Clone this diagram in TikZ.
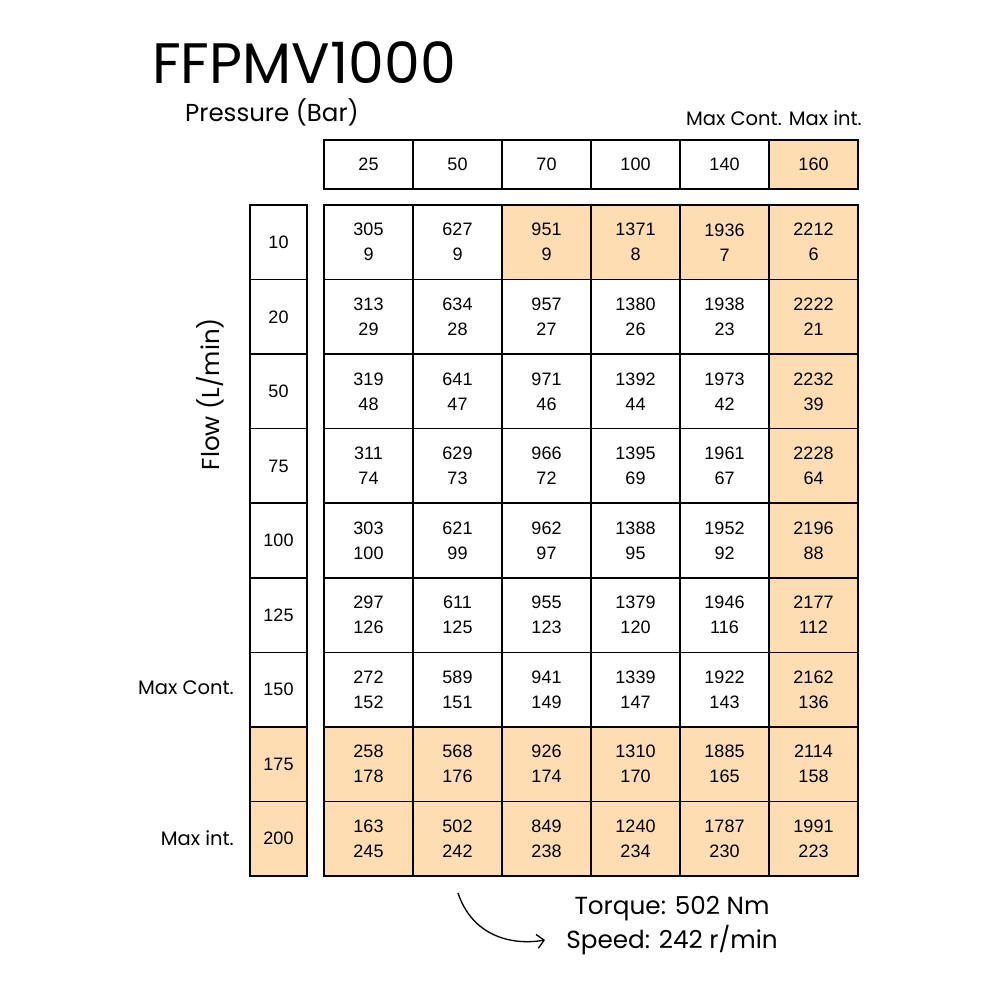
\documentclass[tikz,border=0pt]{standalone}
\usepackage{fontspec}
\setmainfont{Poppins}
\newfontfamily\numfont{Liberation Sans}
\usetikzlibrary{arrows.meta}
\definecolor{peach}{HTML}{FFDDB3}
\tikzset{
  cell/.style={draw=black, line width=1.6pt, minimum width=89pt, minimum height=74.56pt, inner sep=0pt, align=center, font=\numfont\fontsize{18}{25}\selectfont},
  headcell/.style={cell, minimum height=49pt},
  flowcell/.style={cell, minimum width=57pt},
  lbl/.style={inner sep=0pt, font=\fontsize{19.5}{22}\selectfont},
  axislbl/.style={inner sep=0pt, font=\fontsize{24.5}{28}\selectfont},
  big/.style={inner sep=0pt, font=\fontsize{24.7}{30}\selectfont},
}
\begin{document}
\begin{tikzpicture}[x=1pt,y=-1pt]
\fill[white] (0,0) rectangle (1000,1000);
\useasboundingbox (0,0) rectangle (1000,1000);
% title
\node[inner sep=0pt, anchor=base west, font=\fontsize{57}{64}\selectfont] (title) at (152,84) {FFPMV1000};
\node[axislbl, anchor=base west] (pressure) at (185,122) {Pressure (Bar)};
\node[lbl, anchor=base east] (maxhdr) at (862,126) {Max Cont. Max int.};
\node[axislbl, rotate=90] (flow) at (210,394) {Flow (L/min)};
% header
\foreach \p [count=\c] in {25,50,70,100,140,160} {
  \ifnum\c=6 \def\cf{peach}\else\def\cf{white}\fi
  \node[headcell, fill=\cf] (h\c) at ({324+89*(\c-0.5)},164.5) {\p};
}
% flow column
\foreach \f [count=\r] in {10,20,50,75,100,125,150,175,200} {
  \ifnum\r>7 \def\cf{peach}\else\def\cf{white}\fi
  \node[flowcell, fill=\cf] (f\r) at (278.5,{205+74.56*(\r-0.5)}) {\f};
}
% body
\foreach \row [count=\r] in {
 {305/9,627/9,951/9,1371/8,1936/7,2212/6},
 {313/29,634/28,957/27,1380/26,1938/23,2222/21},
 {319/48,641/47,971/46,1392/44,1973/42,2232/39},
 {311/74,629/73,966/72,1395/69,1961/67,2228/64},
 {303/100,621/99,962/97,1388/95,1952/92,2196/88},
 {297/126,611/125,955/123,1379/120,1946/116,2177/112},
 {272/152,589/151,941/149,1339/147,1922/143,2162/136},
 {258/178,568/176,926/174,1310/170,1885/165,2114/158},
 {163/245,502/242,849/238,1240/234,1787/230,1991/223}} {
  \foreach \t/\s [count=\c] in \row {
    \pgfmathtruncatemacro\hl{(\c==6)||(\r>=8)||((\r==1)&&(\c>=3))}
    \ifnum\hl>0 \def\cf{peach}\else\def\cf{white}\fi
    \node[cell, fill=\cf] (c\r-\c) at ({324+89*(\c-0.5)},{205+74.56*(\r-0.5)}) {\t\\\s};
  }
}
% side labels
\node[lbl, anchor=east] (maxcont) at (234,688) {Max Cont.};
\node[lbl, anchor=east] (maxint) at (234,838) {Max int.};
% bottom
\node[big, anchor=base] (torque) at (672,914) {Torque: 502 Nm};
\node[big, anchor=base] (speed) at (672,948) {Speed: 242 r/min};
\coordinate (a0) at (458,893);
\coordinate (a1) at (545,940);
\draw[line width=1.3pt, -{Straight Barb[length=7pt,width=14pt,line width=1.3pt]}] (a0) .. controls (472,935) and (510,946) .. (a1);
\end{tikzpicture}
\end{document}
